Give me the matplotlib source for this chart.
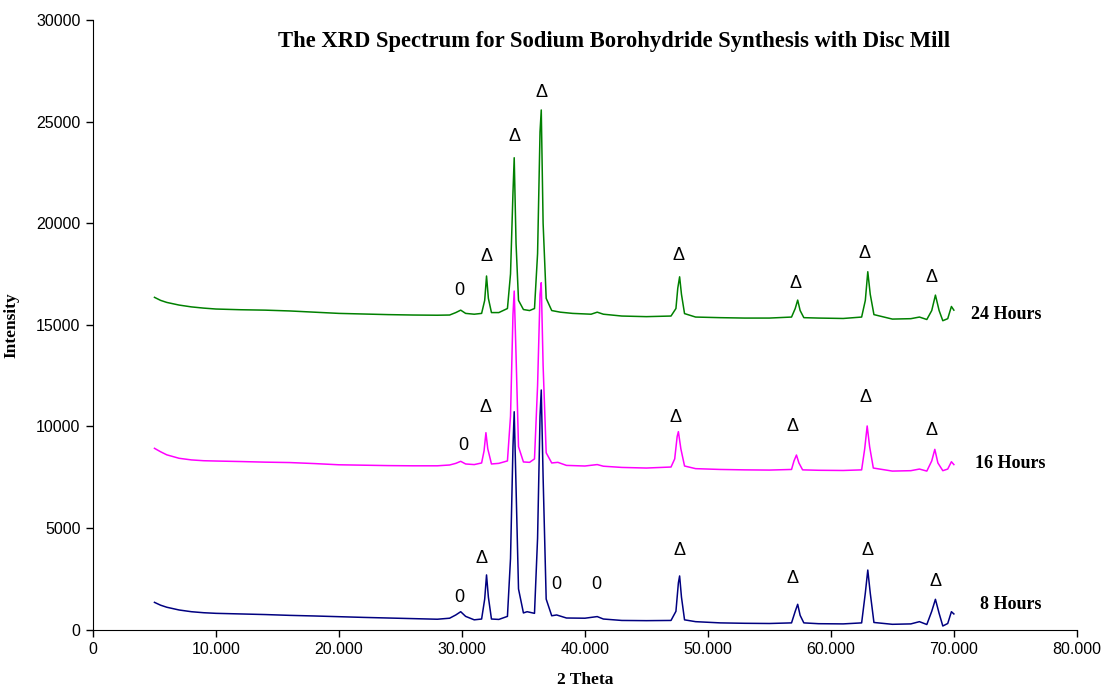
import numpy as np
import matplotlib
matplotlib.use("Agg")
import matplotlib.pyplot as plt
from matplotlib.ticker import FuncFormatter

# 24 Hours (green)
x_24h = [5.0, 5.5, 6.0, 7.0, 8.0, 9.0, 10.0, 12.0, 14.0, 16.0, 18.0, 20.0, 22.0, 24.0, 26.0, 28.0,
         29.0, 29.5, 29.9, 30.3, 31.0, 31.6, 31.85, 32.0, 32.15, 32.4, 33.0, 33.7, 33.95, 34.15,
         34.25, 34.4, 34.6, 35.0, 35.5, 35.9, 36.15, 36.35, 36.45, 36.6, 36.85, 37.3, 38.0, 39.0,
         40.5, 41.0, 41.5, 43.0, 45.0, 47.0, 47.4, 47.55, 47.7, 47.85, 48.1, 49.0, 51.0, 53.0,
         55.0, 56.8, 57.1, 57.3, 57.5, 57.8, 59.0, 61.0, 62.5, 62.8, 63.0, 63.2, 63.5, 65.0,
         66.5, 67.2, 67.8, 68.2, 68.5, 68.8, 69.1, 69.5, 69.8, 70.0]
y_24h = [16350, 16200, 16100, 15970, 15880, 15820, 15775, 15740, 15720, 15680, 15620, 15560, 15530,
         15500, 15480, 15470, 15480, 15600, 15720, 15560, 15520, 15560, 16200, 17400, 16300, 15600,
         15600, 15800, 17500, 21500, 23220, 19000, 16200, 15750, 15700, 15800, 18500, 24500, 25570,
         20000, 16300, 15700, 15620, 15560, 15520, 15620, 15520, 15430, 15400, 15430, 15800, 16800,
         17360, 16500, 15550, 15380, 15350, 15330, 15330, 15380, 15800, 16215, 15700, 15350, 15330,
         15310, 15380, 16200, 17610, 16500, 15500, 15280, 15300, 15380, 15260, 15700, 16460, 15700,
         15200, 15300, 15900, 15720]

# 16 Hours (magenta)
x_16h = [5.0, 5.5, 6.0, 7.0, 8.0, 9.0, 10.0, 12.0, 14.0, 16.0, 18.0, 20.0, 22.0, 24.0, 26.0, 28.0,
         29.0, 29.5, 29.9, 30.3, 31.0, 31.6, 31.8, 31.95, 32.1, 32.4, 33.0, 33.7, 33.95, 34.15,
         34.25, 34.4, 34.6, 35.0, 35.5, 35.9, 36.15, 36.35, 36.45, 36.6, 36.85, 37.3, 37.8, 38.5,
         40.0, 41.0, 41.5, 43.0, 45.0, 47.0, 47.3, 47.5, 47.6, 47.8, 48.1, 49.0, 51.0, 53.0,
         55.0, 56.8, 57.0, 57.2, 57.4, 57.7, 59.0, 61.0, 62.5, 62.75, 62.95, 63.15, 63.45, 65.0,
         66.5, 67.2, 67.8, 68.2, 68.45, 68.7, 69.1, 69.5, 69.8, 70.0]
y_16h = [8920, 8750, 8600, 8430, 8350, 8310, 8295, 8270, 8240, 8220, 8170, 8110, 8090, 8070, 8060,
         8060, 8100, 8180, 8280, 8150, 8120, 8200, 8800, 9690, 8900, 8150, 8180, 8300, 10500, 15500,
         16660, 13500, 9000, 8250, 8230, 8400, 12000, 16500, 17070, 13000, 8700, 8200, 8230, 8080,
         8050, 8120, 8040, 7980, 7950, 8000, 8400, 9500, 9740, 8900, 8050, 7920, 7880, 7860, 7850,
         7880, 8300, 8590, 8200, 7860, 7840, 7830, 7860, 8900, 10020, 9000, 7950, 7800, 7820, 7900,
         7800, 8300, 8870, 8200, 7820, 7900, 8260, 8120]

# 8 Hours (navy)
x_8h = [5.0, 5.5, 6.0, 7.0, 8.0, 9.0, 10.0, 12.0, 14.0, 16.0, 18.0, 20.0, 22.0, 24.0, 26.0, 28.0,
        29.0, 29.5, 29.9, 30.3, 31.0, 31.6, 31.85, 32.0, 32.15, 32.4, 33.0, 33.7, 33.95, 34.15,
        34.25, 34.4, 34.6, 35.0, 35.3, 35.9, 36.15, 36.35, 36.45, 36.6, 36.85, 37.3, 37.7, 38.5,
        40.0, 41.0, 41.5, 43.0, 45.0, 47.0, 47.4, 47.6, 47.7, 47.85, 48.1, 49.0, 51.0, 53.0,
        55.0, 56.8, 57.1, 57.3, 57.5, 57.8, 59.0, 61.0, 62.5, 62.8, 63.0, 63.2, 63.5, 65.0,
        66.5, 67.2, 67.8, 68.2, 68.5, 68.8, 69.1, 69.5, 69.8, 70.0]
y_8h = [1340, 1200, 1100, 965, 880, 830, 800, 770, 740, 700, 670, 635, 600, 570, 540, 510, 560, 720,
        880, 650, 480, 520, 1500, 2690, 1600, 520, 500, 650, 3500, 9000, 10720, 7000, 2000, 820, 880,
        800, 4500, 10500, 11790, 7500, 1500, 680, 720, 570, 560, 640, 520, 450, 440, 450, 900, 2300,
        2640, 1600, 480, 390, 330, 310, 300, 330, 900, 1245, 700, 330, 290, 280, 330, 1800, 2930,
        1800, 350, 260, 280, 390, 250, 900, 1490, 800, 177, 300, 880, 770]

# peak markers (text, x, y)
mark_text = ["0", "Δ", "Δ", "Δ", "Δ", "Δ", "Δ", "Δ",
             "0", "Δ", "Δ", "Δ", "Δ", "Δ",
             "0", "Δ", "0", "0", "Δ", "Δ", "Δ", "Δ"]
mark_x = [29.8, 32.0, 34.3, 36.5, 47.6, 57.1, 62.7, 68.2,
          30.1, 31.9, 47.4, 56.9, 62.8, 68.2,
          29.8, 31.6, 37.7, 40.9, 47.7, 56.9, 63.0, 68.5]
mark_y = [16710, 18380, 24280, 26450, 18430, 17050, 18530, 17350,
          9080, 10950, 10460, 10015, 11440, 9820,
          1600, 3520, 2240, 2240, 3870, 2490, 3870, 2390]

series_names = ["24 Hours", "16 Hours", "8 Hours"]
series_colors = ["#008000", "#ff00ff", "#000080"]
label_x = [71.4, 71.7, 72.1]
label_y = [15500, 8150, 1250]

fig = plt.figure(figsize=(11.03, 6.93), dpi=100)
ax = fig.add_axes([0.0843, 0.0915, 0.892, 0.8797])

for xs, ys, c in zip([x_24h, x_16h, x_8h], [y_24h, y_16h, y_8h], series_colors):
    ax.plot(xs, ys, color=c, lw=1.1)

for t, mx, my in zip(mark_text, mark_x, mark_y):
    ax.text(mx, my, t, ha="center", va="center", fontsize=13, family="Liberation Sans")

for name, lx, ly in zip(series_names, label_x, label_y):
    ax.text(lx, ly, name, ha="left", va="center", fontsize=13, fontweight="bold",
            family="Liberation Serif")

ax.set_xlim(0, 80)
ax.set_ylim(0, 30000)
ax.set_xticks(np.arange(0, 81, 10))
ax.set_yticks(np.arange(0, 30001, 5000))
ax.xaxis.set_major_formatter(FuncFormatter(lambda v, p: "0" if v == 0 else f"{v:.3f}"))

for s in ["top", "right"]:
    ax.spines[s].set_visible(False)
ax.tick_params(direction="out", length=5, width=1, labelsize=11.5, pad=4)
for lab in ax.get_xticklabels() + ax.get_yticklabels():
    lab.set_family("Liberation Sans")

ax.set_xlabel("2 Theta", fontsize=12.5, fontweight="bold", family="Liberation Serif", labelpad=11)
ax.set_ylabel("Intensity", fontsize=12.5, fontweight="bold", family="Liberation Serif", labelpad=12)
fig.text(0.557, 0.94, "The XRD Spectrum for Sodium Borohydride Synthesis with Disc Mill",
         ha="center", va="center", fontsize=16.3, fontweight="bold", family="Liberation Serif")

fig.savefig("out.png", dpi=100)
